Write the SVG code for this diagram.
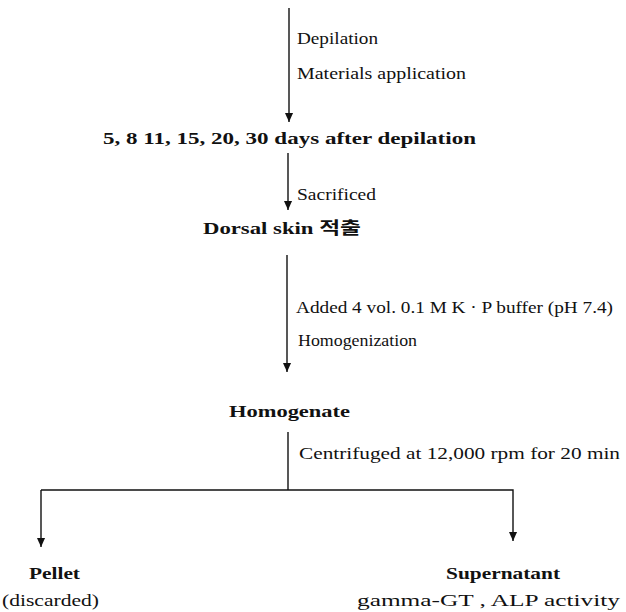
<svg xmlns="http://www.w3.org/2000/svg" width="626" height="612" viewBox="0 0 626 612">
<style>
.lbl{font-family:"Liberation Serif","Times New Roman",serif;font-size:16px;fill:#111}
.hd{font-family:"Liberation Serif","Times New Roman","Noto Sans CJK KR",serif;font-size:17px;font-weight:bold;fill:#111}
.ln{stroke:#111;stroke-width:1.4;fill:none}
</style>
<defs>
<marker id="ah" viewBox="0 0 10 10" refX="10" refY="5" markerWidth="9" markerHeight="9" markerUnits="userSpaceOnUse" orient="auto">
<path d="M0,0.5 L10,5 L0,9.5 z" fill="#111"/>
</marker>
</defs>
<rect width="626" height="612" fill="#fff"/>
<g id="connectors">
<line class="ln" x1="289" y1="8" x2="289" y2="122" marker-end="url(#ah)"/>
<line class="ln" x1="288" y1="153" x2="288" y2="210" marker-end="url(#ah)"/>
<line class="ln" x1="287" y1="255" x2="287" y2="372" marker-end="url(#ah)"/>
<line class="ln" x1="288" y1="432" x2="288" y2="490"/>
<polyline class="ln" points="41,490 513,490 513,541" marker-end="url(#ah)"/>
<line class="ln" x1="41" y1="490" x2="41" y2="547" marker-end="url(#ah)"/>
<text class="lbl" x="297" y="44" textLength="81" lengthAdjust="spacingAndGlyphs">Depilation</text>
<text class="lbl" x="297" y="79" textLength="169" lengthAdjust="spacingAndGlyphs">Materials application</text>
<text class="lbl" x="297" y="200" textLength="79" lengthAdjust="spacingAndGlyphs">Sacrificed</text>
<text class="lbl" x="296" y="313" textLength="317" lengthAdjust="spacingAndGlyphs">Added 4 vol. 0.1 M K · P buffer (pH 7.4)</text>
<text class="lbl" x="298" y="346" textLength="119" lengthAdjust="spacingAndGlyphs">Homogenization</text>
<text class="lbl" x="299" y="459" textLength="321" lengthAdjust="spacingAndGlyphs">Centrifuged at 12,000 rpm for 20 min</text>
</g>
<g id="days"><text class="hd" x="103" y="144" textLength="373" lengthAdjust="spacingAndGlyphs">5, 8 11, 15, 20, 30 days after depilation</text></g>
<g id="dorsal"><text class="hd" x="203" y="234" textLength="158" lengthAdjust="spacingAndGlyphs">Dorsal skin 적출</text></g>
<g id="homogenate"><text class="hd" x="229" y="417" textLength="121" lengthAdjust="spacingAndGlyphs">Homogenate</text></g>
<g id="pellet"><text class="hd" x="29" y="579" textLength="51" lengthAdjust="spacingAndGlyphs">Pellet</text>
<text class="lbl" x="2" y="606" textLength="97" lengthAdjust="spacingAndGlyphs">(discarded)</text></g>
<g id="supernatant"><text class="hd" x="446" y="579" textLength="114" lengthAdjust="spacingAndGlyphs">Supernatant</text>
<text class="lbl" x="357" y="606" textLength="263" lengthAdjust="spacingAndGlyphs">gamma-GT , ALP activity</text></g>
</svg>
